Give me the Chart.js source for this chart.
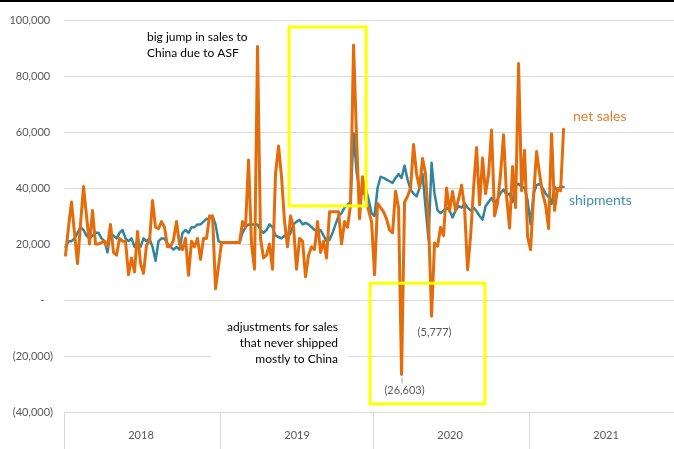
<!DOCTYPE html>
<html>
<head>
<meta charset="utf-8">
<script src="https://cdn.jsdelivr.net/npm/chart.js@4.4.1/dist/chart.umd.min.js"></script>
<style>
  html, body { margin: 0; padding: 0; background: #fff; }
  #wrap { position: relative; width: 674px; height: 449px; }
</style>
</head>
<body>
<div id="wrap"><canvas id="chart" width="674" height="449"></canvas></div>
<script>
  // weekly export sales vs shipments, first week of 2018 onwards
  var NET_SALES = [
    16000, 26000, 35000, 24000, 13000, 27000, 40500, 30000, 20000, 32000,
    20000, 20000, 20500, 21000, 19000, 27000, 17000, 16000, 22000, 21000,
    21000, 9000, 15000, 10000, 24500, 13000, 9500, 19500, 21000, 35500,
    26000, 25500, 28000, 26000, 19000, 19000, 21500, 28000, 20000, 18000,
    22000, 8800, 21000, 19000, 22000, 14500, 22000, 22000, 30000, 30000,
    4000, 12000, 20500, 20500, 20500, 20500, 20500, 20500, 20500, 28000,
    26000, 50000, 20000, 11000, 90500, 22000, 15000, 16000, 20000, 11000,
    45000, 55000, 44000, 28000, 19000, 30000, 26000, 11000, 22000, 21000,
    8300, 16000, 19000, 18000, 28000, 17000, 21000, 15000, 31500, 31500,
    31500, 31500, 20000, 28000, 26000, 34000, 91000, 58000, 29000, 44000,
    36000, 32000, 28000, 9000, 34500, 33000, 31500, 29000, 25000, 24000,
    38800, 33000, -26603, 35000, 37000, 40000, 55500, 45000, 40000, 50500,
    45000, 28000, -5777, 20400, 19200, 26000, 23000, 40000, 31700, 38800,
    32000, 36000, 41000, 33000, 10800, 22700, 40000, 54500, 34000, 50700,
    38000, 45000, 60700, 30000, 34600, 45000, 59000, 37000, 25700, 47700,
    33000, 84500, 39000, 53500, 22500, 18000, 37000, 53000, 45000, 38000,
    34000, 25500, 59400, 32000, 39800, 39000, 61000
  ];

  var SHIPMENTS = [
    19000, 21000, 21000, 22000, 24000, 26000, 25000, 23000, 22000, 23000,
    24000, 24000, 22000, 21000, 17000, 24000, 23000, 22000, 24000, 25000,
    22000, 21000, 22000, 19000, 21000, 19000, 22000, 21000, 22000, 19000,
    14000, 21000, 22000, 22000, 20000, 19000, 18000, 19000, 18000, 24000,
    25000, 24000, 26000, 26000, 27000, 27000, 28000, 29000, 29000, 30000,
    27000, 21000, 20500, 20500, 20500, 20500, 20500, 20500, 20500, 24000,
    26000, 27000, 27000, 27000, 27000, 25000, 24000, 25000, 27000, 26000,
    23000, 22500, 22000, 23000, 22000, 24000, 27000, 28000, 28600, 27000,
    27500, 27000, 26000, 25000, 24400, 25000, 23000, 21000, 21500, 24000,
    27000, 30000, 31000, 33000, 34000, 35000, 59500, 46000, 39000, 38000,
    40000, 36000, 31000, 30000, 40000, 44000, 43600, 43000, 42400, 41800,
    43600, 45000, 43600, 48000, 43000, 39400, 38000, 37000, 40000, 45000,
    33000, 21500, 49000, 38000, 32000, 31000, 32000, 33000, 32000, 29500,
    32000, 33500, 33000, 34600, 33000, 32000, 33000, 31700, 30000, 28700,
    33500, 35000, 36400, 34600, 36000, 38200, 39400, 37500, 38000, 35000,
    41000, 41500, 40500, 40000, 35600, 27000, 38000, 41000, 41500, 40000,
    38000, 36800, 34400, 40400, 39000, 40500, 40400
  ];

  var YEARS = ['2018', '2019', '2020', '2021'];
  var YEAR_STARTS = [-0.5, 51.5, 102.5, 154.5];   // week index where each year band begins
  var Y_TICKS = [-40000, -20000, 0, 20000, 40000, 60000, 80000, 100000];

  // points that get a value label (index into NET_SALES)
  var LABELLED_WEEKS = [112, 122];

  // yellow boxes, in data units [weekFrom, weekTo, valueTop, valueBottom]
  var BOXES = [
    [74.5, 100.2, 97500, 33600],
    [101.5, 139.8, 6000, -37100]
  ];

  var ORANGE = '#e46c0a';
  var TEAL = '#31859c';
  var GRID = '#d9d9d9';
  var TICK_TXT = '#595959';
  var FONT = 'Lato, "Open Sans", sans-serif';

  function acct(v) {
    if (v === 0) return '-   ';
    var s = Math.abs(v).toLocaleString('en-US');
    return v < 0 ? '(' + s + ')' : s + ' ';
  }

  function toPoints(arr) {
    return arr.map(function (v, i) { return { x: i, y: v }; });
  }

  var notes = {
    id: 'notes',
    beforeDatasetsDraw: function (chart) {
      // white text box behind the "adjustments" note hides the gridline
      var ctx = chart.ctx;
      ctx.save();
      ctx.fillStyle = '#fff';
      ctx.fillRect(211, 312, 137, 56);
      ctx.restore();
    },
    afterDraw: function (chart) {
      var ctx = chart.ctx;
      var xs = chart.scales.x, ys = chart.scales.y;
      ctx.save();

      // frame line across the top
      ctx.fillStyle = '#000';
      ctx.fillRect(0, 0, chart.width, 2);

      // highlight boxes
      ctx.strokeStyle = '#ffff00';
      ctx.lineWidth = 3;
      BOXES.forEach(function (b) {
        var x0 = xs.getPixelForValue(b[0]), x1 = xs.getPixelForValue(b[1]);
        var y0 = ys.getPixelForValue(b[2]), y1 = ys.getPixelForValue(b[3]);
        ctx.strokeRect(x0, y0, x1 - x0, y1 - y0);
      });

      // notes
      ctx.fillStyle = '#000';
      ctx.font = '12px ' + FONT;
      ctx.textBaseline = 'middle';
      ctx.textAlign = 'left';
      ctx.fillText('big jump in sales to', 147, 37);
      ctx.fillText('China due to ASF', 147, 53);
      ctx.textAlign = 'right';
      ctx.fillText('adjustments for sales', 338, 327);
      ctx.fillText('that never shipped', 338, 343);
      ctx.fillText('mostly to China', 338, 359);

      // series names at the right
      ctx.textAlign = 'left';
      ctx.font = '14px ' + FONT;
      ctx.fillStyle = '#e97d2f';
      ctx.fillText('net sales', 573, 116);
      ctx.fillStyle = '#3f8fa8';
      ctx.fillText('shipments', 569, 200);

      // value labels under the two negative weeks
      ctx.font = '11px ' + FONT;
      ctx.fillStyle = TICK_TXT;
      ctx.strokeStyle = '#a6a6a6';
      ctx.lineWidth = 1;
      ctx.textAlign = 'center';
      LABELLED_WEEKS.forEach(function (w, k) {
        var px = xs.getPixelForValue(w);
        var py = ys.getPixelForValue(NET_SALES[w]);
        if (k === 0) {
          ctx.beginPath();
          ctx.moveTo(px + 0.5, py + 3);
          ctx.lineTo(px + 0.5, py + 9);
          ctx.stroke();
        }
        ctx.fillText(acct(NET_SALES[w]).trim(), px + 3, py + 16);
      });

      ctx.restore();
    }
  };

  new Chart(document.getElementById('chart'), {
    type: 'line',
    data: {
      datasets: [
        {
          label: 'net sales',
          data: toPoints(NET_SALES),
          borderColor: ORANGE,
          borderWidth: 3,
          pointRadius: 0,
          tension: 0,
          borderJoinStyle: 'round',
          borderCapStyle: 'round',
          order: 0
        },
        {
          label: 'shipments',
          data: toPoints(SHIPMENTS),
          borderColor: TEAL,
          borderWidth: 2.5,
          pointRadius: 0,
          tension: 0,
          borderJoinStyle: 'round',
          borderCapStyle: 'round',
          order: 1
        }
      ]
    },
    options: {
      responsive: false,
      animation: false,
      events: [],
      layout: { padding: { top: 20, right: 0, bottom: 0, left: 0 } },
      plugins: { legend: { display: false }, tooltip: { enabled: false } },
      scales: {
        x: {
          type: 'linear',
          min: -0.5,
          max: 202.8,
          afterBuildTicks: function (scale) {
            scale.ticks = YEAR_STARTS.map(function (v) { return { value: v }; });
          },
          afterFit: function (scale) { scale.height = 37; },
          grid: { drawOnChartArea: false, drawTicks: true, tickLength: 37, color: GRID, lineWidth: 1 },
          border: { display: false },
          ticks: {
            autoSkip: false,
            maxRotation: 0,
            padding: -20,
            labelOffset: 77,
            color: TICK_TXT,
            font: { family: FONT, size: 11 },
            callback: function (v, i) { return YEARS[i]; }
          }
        },
        y: {
          min: -40000,
          max: 100000,
          afterBuildTicks: function (scale) {
            scale.ticks = Y_TICKS.map(function (v) { return { value: v }; });
          },
          afterFit: function (scale) { scale.width = 64; },
          grid: { color: GRID, lineWidth: 1, drawTicks: false },
          border: { display: false },
          ticks: {
            padding: 11,
            color: TICK_TXT,
            font: { family: FONT, size: 11 },
            callback: function (v) { return acct(v); }
          }
        }
      }
    },
    plugins: [notes]
  });
</script>
</body>
</html>
